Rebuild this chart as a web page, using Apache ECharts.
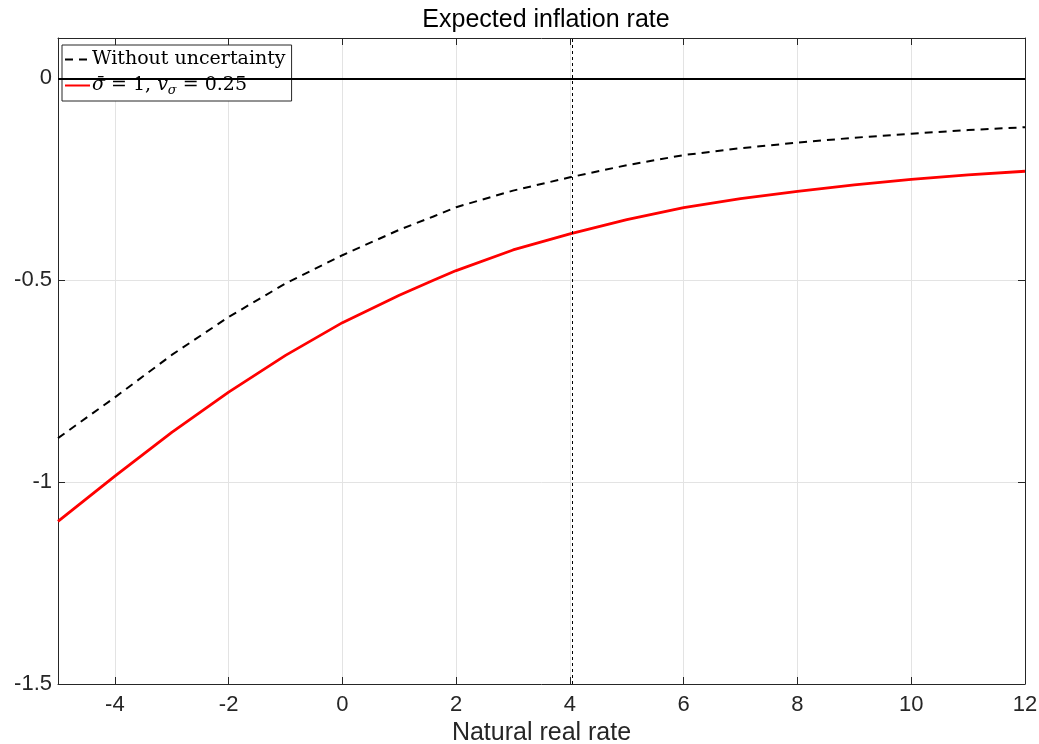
<!DOCTYPE html>
<html>
<head>
<meta charset="utf-8">
<script src="https://cdn.jsdelivr.net/npm/echarts@6/dist/echarts.min.js"></script>
<style>
  html, body { margin: 0; padding: 0; background: #fff; }
  #chart { width: 1039px; height: 744px; }
</style>
</head>
<body>
<div id="chart"></div>
<script>
// data
var xs = [-5, -4, -3, -2, -1, 0, 1, 1.6, 2, 3, 4, 5, 6, 7, 8, 9, 10, 11, 12];
var noUncertainty = [-0.891, -0.79, -0.685, -0.591, -0.508, -0.438, -0.375, -0.342, -0.319, -0.278, -0.245,
    -0.215, -0.19, -0.173, -0.159, -0.147, -0.137, -0.128, -0.121];
var withUncertainty = [-1.097, -0.985, -0.877, -0.777, -0.686, -0.605, -0.537, -0.5, -0.476, -0.425, -0.385,
    -0.35, -0.32, -0.298, -0.28, -0.264, -0.25, -0.239, -0.23];
var vLineX = 4.04;
var seriesNames = ['Without uncertainty', 'sigma'];

function pairs(ys) {
    return xs.map(function (x, i) { return [x, ys[i]]; });
}

var chart = echarts.init(document.getElementById('chart'));
var axisColor = '#262626';
var font = 'Liberation Sans';

option = {
    animation: false,
    backgroundColor: '#fff',
    textStyle: { fontFamily: font },
    title: {
        text: 'Expected inflation rate',
        left: 541,
        textAlign: 'center',
        top: 3,
        textStyle: { fontSize: 25, fontWeight: 'normal', color: '#000', fontFamily: font }
    },
    grid: { left: 58, right: 14, top: 38, bottom: 60, containLabel: false, outerBoundsMode: 'none' },
    legend: {
        data: seriesNames,
        orient: 'vertical',
        left: 62,
        top: 45,
        itemWidth: 25,
        itemHeight: 10,
        itemGap: 7,
        padding: [5, 6, 4, 2],
        backgroundColor: '#fff',
        borderColor: axisColor,
        borderWidth: 1,
        selectedMode: false,
        itemStyle: { opacity: 0 },
        formatter: function (name) {
            if (name === 'sigma') return '{i|σ̄} = 1, {i|v}{sub|σ} = 0.25';
            return name;
        },
        textStyle: {
            fontFamily: 'DejaVu Serif',
            fontSize: 19,
            color: '#000',
            padding: [0, 0, 0, -3],
            rich: {
                i: { fontFamily: 'DejaVu Serif', fontStyle: 'italic', fontSize: 19 },
                sub: { fontFamily: 'DejaVu Serif', fontStyle: 'italic', fontSize: 13, padding: [10, 0, 0, 0] }
            }
        }
    },
    xAxis: [{
        type: 'value',
        min: -5,
        max: 12,
        splitNumber: 8,
        name: 'Natural real rate',
        nameLocation: 'middle',
        nameGap: 36,
        nameTextStyle: { fontSize: 25, color: axisColor, fontFamily: font },
        axisLine: { onZero: false, lineStyle: { color: axisColor, width: 1 } },
        axisTick: { inside: true, length: 7, lineStyle: { color: axisColor } },
        axisLabel: {
            fontSize: 22, color: axisColor, margin: 10,
            formatter: function (v) { return v % 2 === 0 ? String(v) : ''; }
        },
        splitLine: { show: true, lineStyle: { color: '#e3e3e3', width: 1 } }
    }, {
        type: 'value',
        position: 'top',
        min: -5,
        max: 12,
        splitNumber: 8,
        axisLine: { onZero: false, lineStyle: { color: axisColor, width: 1 } },
        axisTick: { inside: true, length: 7, lineStyle: { color: axisColor } },
        axisLabel: { show: false },
        splitLine: { show: false }
    }],
    yAxis: [{
        type: 'value',
        min: -1.5,
        max: 0.1,
        interval: 0.5,
        axisLine: { show: true, onZero: false, lineStyle: { color: axisColor, width: 1 } },
        axisTick: { show: true, inside: true, length: 7, lineStyle: { color: axisColor } },
        axisLabel: {
            fontSize: 22, color: axisColor, margin: 6,
            formatter: function (v) {
                var r = Math.round(v * 2) / 2;
                return Math.abs(r - v) < 1e-9 ? String(r) : '';
            }
        },
        splitLine: { show: true, lineStyle: { color: '#e3e3e3', width: 1 } }
    }, {
        type: 'value',
        position: 'right',
        min: -1.5,
        max: 0.1,
        interval: 0.5,
        axisLine: { show: true, onZero: false, lineStyle: { color: axisColor, width: 1 } },
        axisTick: { show: true, inside: true, length: 7, lineStyle: { color: axisColor } },
        axisLabel: { show: false },
        splitLine: { show: false }
    }],
    series: [
        {
            name: 'Without uncertainty',
            type: 'line',
            data: pairs(noUncertainty),
            symbol: 'none',
            color: '#000',
            lineStyle: { color: '#000', width: 2, type: [8, 6] },
            markLine: {
                silent: true,
                symbol: 'none',
                label: { show: false },
                data: [
                    { yAxis: 0, lineStyle: { color: '#000', width: 2, type: 'solid' } },
                    { xAxis: vLineX, lineStyle: { color: '#000', width: 1, type: [3, 3] } }
                ]
            },
            z: 3
        },
        {
            name: 'sigma',
            type: 'line',
            data: pairs(withUncertainty),
            symbol: 'none',
            color: '#ff0000',
            lineStyle: { color: '#ff0000', width: 2.8 },
            z: 4
        }
    ]
};

chart.setOption(option);
</script>
</body>
</html>
